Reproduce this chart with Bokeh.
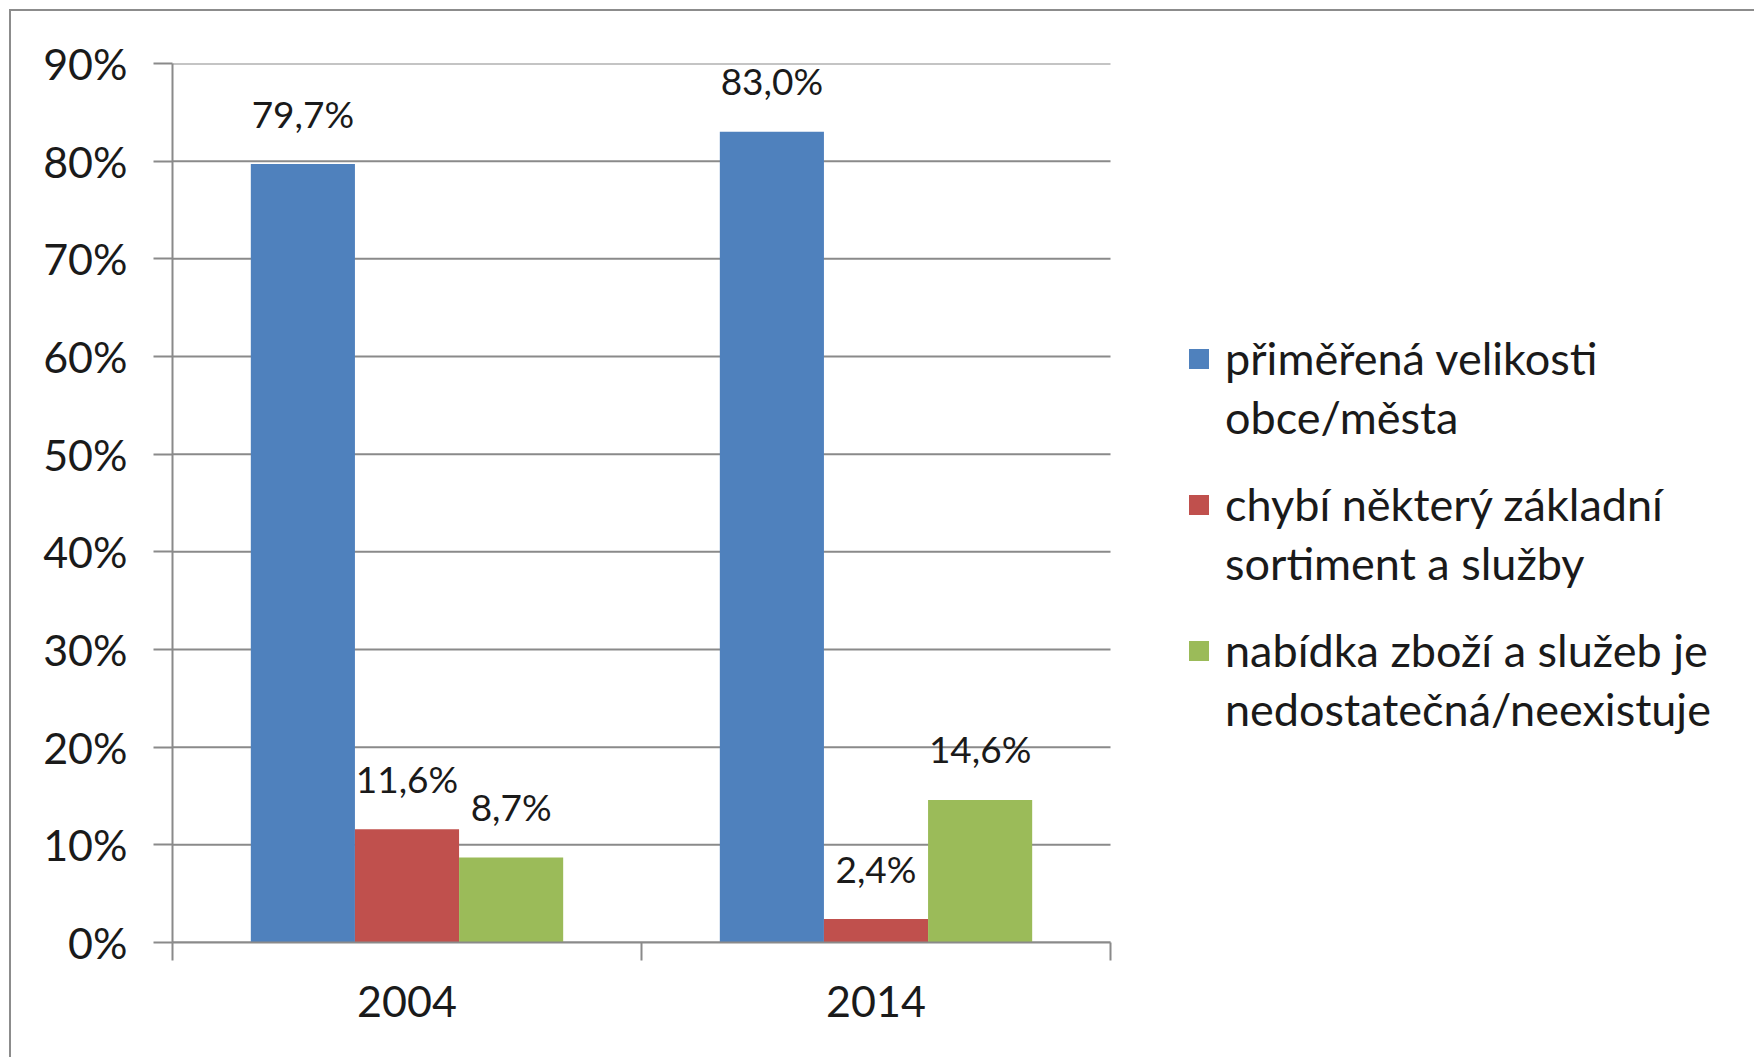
from bokeh.plotting import figure
from bokeh.models import (Range1d, FixedTicker, NumeralTickFormatter, Legend,
                          LegendItem, ColumnDataSource, LinearAxis)
from bokeh.core.properties import value
from bokeh.embed import file_html
from bokeh.resources import INLINE

# ---- data ----
years = ["2004", "2014"]
series_names = [
    ["přiměřená velikosti", "obce/města"],
    ["chybí některý základní", "sortiment a služby"],
    ["nabídka zboží a služeb je", "nedostatečná/neexistuje"],
]
vals_primerena = [79.7, 83.0]
vals_chybi = [11.6, 2.4]
vals_nabidka = [8.7, 14.6]
series_values = [vals_primerena, vals_chybi, vals_nabidka]
y_ticks = [0, 10, 20, 30, 40, 50, 60, 70, 80, 90]

colors = ["#4F81BD", "#C0504D", "#9BBB59"]
FONT = "Lato"
GRID = "#8a8a8a"
TXT = "#1a1a1a"

# ---- layout ----
W, H = 1745, 1048
LEFT, TOP = 161, 52
PLOT_W, FRAME_H = 938, 879        # category area in px
BOTTOM = H - TOP - FRAME_H
FRAME_W = W - LEFT
x_end = len(years) * FRAME_W / PLOT_W

p = figure(width=W, height=H, output_backend="svg", toolbar_location=None,
           x_range=Range1d(0, x_end), y_range=Range1d(0, y_ticks[-1] / 100),
           min_border_left=LEFT, min_border_top=TOP, min_border_right=0,
           min_border_bottom=BOTTOM, x_axis_type=None, y_axis_type=None)
p.outline_line_color = None
p.background_fill_color = "white"
p.border_fill_color = "white"
p.xgrid.visible = False
p.ygrid.visible = False
p.styles = {"margin-left": "9px", "margin-top": "9px",
            "border-top": "2px solid #8c8c8c", "border-left": "2px solid #8c8c8c"}

# horizontal gridlines over the category area only
gy = [t / 100 for t in y_ticks]
p.segment(x0=[0] * len(gy), x1=[len(years)] * len(gy), y0=gy, y1=gy,
          line_color=GRID, line_width=2)

# y axis
yax = LinearAxis(ticker=FixedTicker(ticks=gy),
                 formatter=NumeralTickFormatter(format="0%"))
yax.axis_line_color = GRID
yax.axis_line_width = 2
yax.major_tick_line_color = GRID
yax.major_tick_line_width = 2
yax.major_tick_out = 19
yax.major_tick_in = 0
yax.minor_tick_line_color = None
yax.major_label_standoff = 26
yax.major_label_text_font = FONT
yax.major_label_text_font_size = "43px"
yax.major_label_text_color = TXT
p.add_layout(yax, "left")

# x axis: boundary ticks as minor ticks, labels at category centres
centers = [i + 0.5 for i in range(len(years))]
bounds = list(range(len(years) + 1))
xax = LinearAxis(ticker=FixedTicker(ticks=centers, minor_ticks=bounds),
                 major_label_overrides={c: y for c, y in zip(centers, years)},
                 bounds=(0, len(years)))
xax.axis_line_color = GRID
xax.axis_line_width = 2
xax.major_tick_line_color = None
xax.major_tick_out = 0
xax.major_tick_in = 0
xax.minor_tick_line_color = GRID
xax.minor_tick_line_width = 2
xax.minor_tick_out = 18
xax.minor_tick_in = 0
xax.major_label_standoff = 25
xax.major_label_text_font = FONT
xax.major_label_text_font_size = "43px"
xax.major_label_text_color = TXT
p.add_layout(xax, "below")

bar_w = 0.222
offsets = [-bar_w, 0.0, bar_w]
legend_vy = [498, 352, 206]
for name, vals, col, off, vy in zip(series_names, series_values, colors,
                                    offsets, legend_vy):
    src = ColumnDataSource(dict(
        x=[c + off for c in centers],
        top=[v / 100 for v in vals],
        lbl=[f"{v:.1f}".replace(".", ",") + "%" for v in vals],
    ))
    r = p.vbar(x="x", top="top", bottom=0, width=bar_w, source=src,
               fill_color=col, line_color=None)
    p.text(x="x", y="top", text="lbl", source=src, text_align="center",
           text_baseline="middle", y_offset=-51, text_font=value(FONT),
           text_font_size="37px", text_color=TXT)
    items = [LegendItem(label=name[0], renderers=[r]),
             LegendItem(label=name[1], renderers=[])]
    lg = Legend(items=items, location=(1014, vy), orientation="vertical",
                border_line_color=None, background_fill_alpha=0,
                label_text_font=FONT, label_text_font_size="45px",
                label_text_color=TXT,
                glyph_width=25, glyph_height=25, label_standoff=14,
                spacing=5, padding=0, margin=0)
    p.add_layout(lg, "center")

open("out.html", "w").write(file_html(p, INLINE))
